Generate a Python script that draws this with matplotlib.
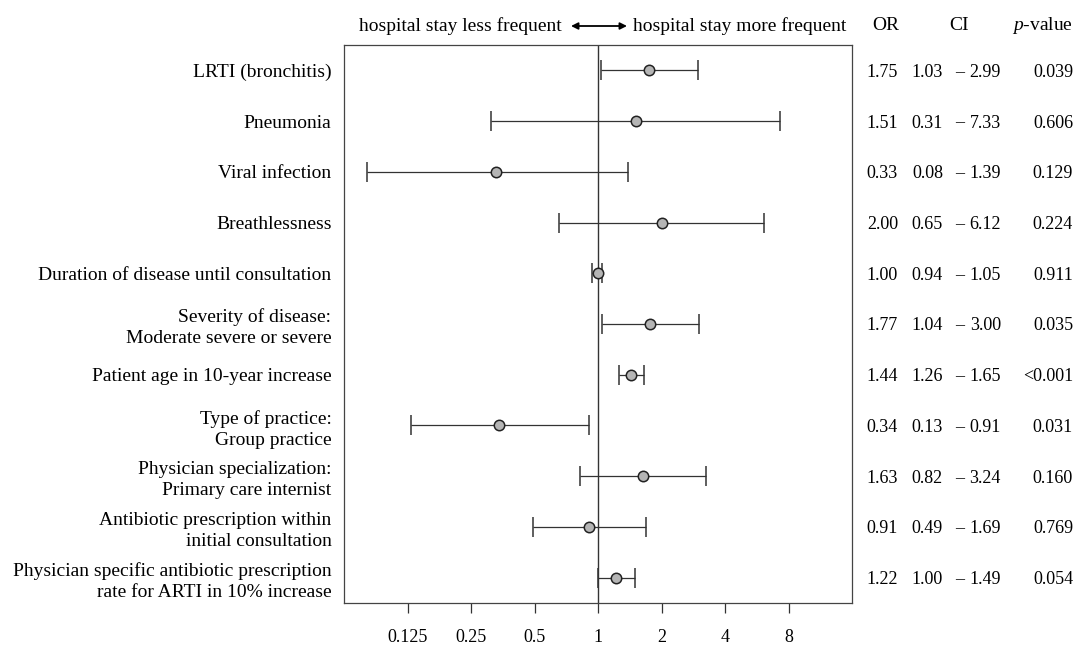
import numpy as np
import matplotlib.pyplot as plt

plt.rcParams['font.family'] = ['Liberation Serif', 'DejaVu Serif']
plt.rcParams['mathtext.fontset'] = 'custom'
plt.rcParams['mathtext.rm'] = 'Liberation Serif'
plt.rcParams['mathtext.it'] = 'Liberation Serif:italic'

labels = ["LRTI (bronchitis)",
          "Pneumonia",
          "Viral infection",
          "Breathlessness",
          "Duration of disease until consultation",
          "Severity of disease:\nModerate severe or severe",
          "Patient age in 10-year increase",
          "Type of practice:\nGroup practice",
          "Physician specialization:\nPrimary care internist",
          "Antibiotic prescription within\ninitial consultation",
          "Physician specific antibiotic prescription\nrate for ARTI in 10% increase"]
odds = [1.75, 1.51, 0.33, 2.00, 1.00, 1.77, 1.44, 0.34, 1.63, 0.91, 1.22]
ci_low = [1.03, 0.31, 0.08, 0.65, 0.94, 1.04, 1.26, 0.13, 0.82, 0.49, 1.00]
ci_high = [2.99, 7.33, 1.39, 6.12, 1.05, 3.00, 1.65, 0.91, 3.24, 1.69, 1.49]
pvals = ["0.039", "0.606", "0.129", "0.224", "0.911", "0.035", "<0.001",
         "0.031", "0.160", "0.769", "0.054"]
xticks = [0.125, 0.25, 0.5, 1, 2, 4, 8]
xtick_labels = ["0.125", "0.25", "0.5", "1", "2", "4", "8"]

fs = 14
fig = plt.figure(figsize=(10.75, 6.46), dpi=100)
ax = fig.add_axes([344 / 1075, 1 - 603 / 646, 508 / 1075, 558 / 646])

n = len(labels)
ypos = np.arange(n, 0, -1)
odds = np.array(odds)
err = np.vstack([odds - np.array(ci_low), np.array(ci_high) - odds])

ax.axvline(1, color='#333333', lw=1.0, zorder=1)
ax.errorbar(odds, ypos, xerr=err, fmt='o', color='#333333', ecolor='#333333',
            elinewidth=0.9, capsize=7, capthick=0.9, markersize=7.5,
            mfc='#b5b5b5', mec='#222222', mew=1.1, zorder=3)

ax.set_xscale('log', base=2)
ax.set_xlim(2 ** -4, 2 ** 4)
ax.set_ylim(0.5, n + 0.5)
ax.set_xticks(xticks)
ax.set_xticklabels(xtick_labels)
ax.minorticks_off()
ax.tick_params(axis='x', direction='out', length=7.5, width=0.9, pad=11,
               labelsize=13, colors='#333333', labelcolor='black')
ax.set_yticks(ypos)
ax.set_yticklabels(labels, fontsize=fs, linespacing=1.3)
ax.tick_params(axis='y', length=0, pad=9)
for s in ax.spines.values():
    s.set_color('#444444')
    s.set_linewidth(0.9)

# table to the right of the plot
for i in range(n):
    fig_y = ax.transData.transform((1, ypos[i]))[1]
    fy = fig.transFigure.inverted().transform((0, fig_y))[1]
    kw = dict(va='center_baseline', fontsize=13)
    fig.text(898 / 1075, fy, "%.2f" % odds[i], ha='right', **kw)
    fig.text(943 / 1075, fy, "%.2f" % ci_low[i], ha='right', **kw)
    fig.text(959.5 / 1075, fy, "\u2013", ha='center', **kw)
    fig.text(1001 / 1075, fy, "%.2f" % ci_high[i], ha='right', **kw)
    fig.text(1073 / 1075, fy, pvals[i], ha='right', **kw)

hy = 1 - 26 / 646
fig.text(886 / 1075, hy, "OR", ha='center', va='center', fontsize=fs)
fig.text(959 / 1075, hy, "CI", ha='center', va='center', fontsize=fs)
fig.text(1073 / 1075, hy, "$\\it{p}$-value", ha='right', va='center', fontsize=fs)
fig.text(562 / 1075, hy, "hospital stay less frequent", ha='right', va='center', fontsize=fs)
fig.text(633 / 1075, hy, "hospital stay more frequent", ha='left', va='center', fontsize=fs)
ax.annotate("", xy=(627 / 1075, hy), xytext=(571 / 1075, hy),
            xycoords='figure fraction', textcoords='figure fraction',
            arrowprops=dict(arrowstyle='<|-|>', color='black', lw=1.3,
                            mutation_scale=10, shrinkA=0, shrinkB=0))

plt.savefig("out.png", dpi=100)
